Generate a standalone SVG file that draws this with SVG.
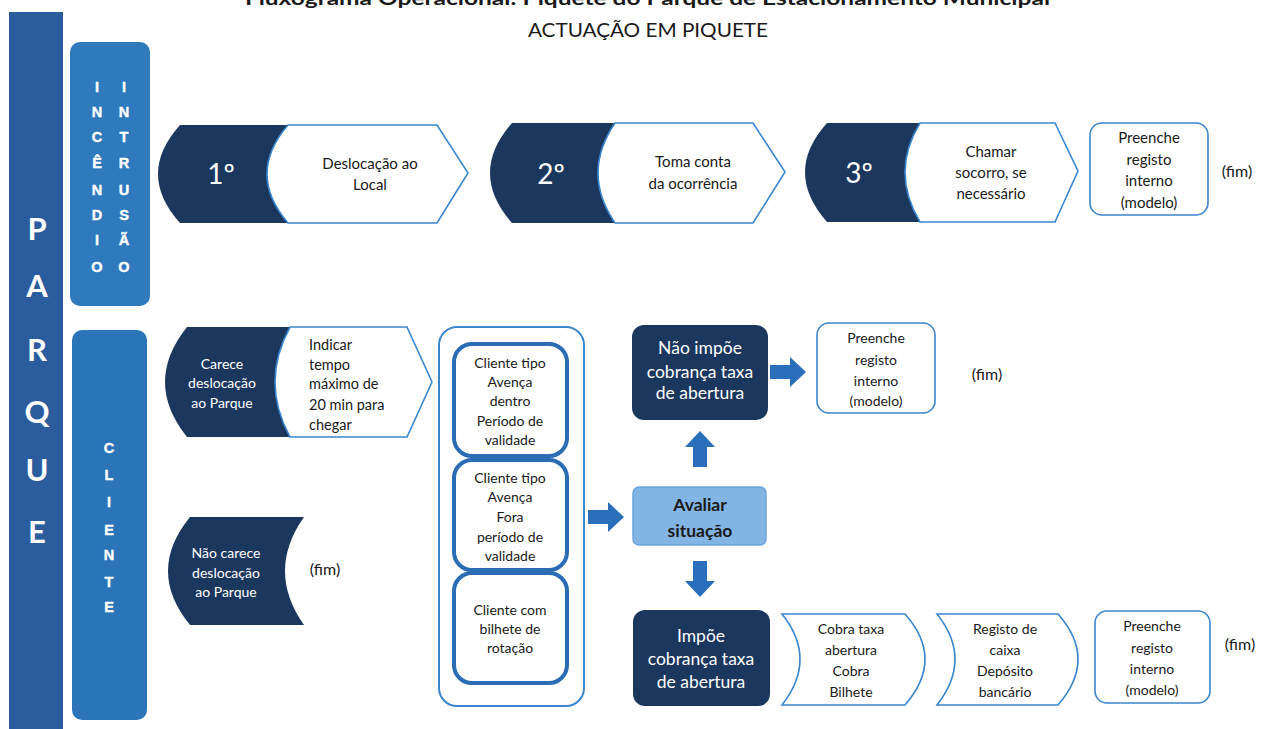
<svg xmlns="http://www.w3.org/2000/svg" width="1264" height="729" viewBox="0 0 1264 729">
<style>
.t{font-family:Lato,"Liberation Sans",sans-serif;fill:#1a1a1a;text-anchor:middle}
.w{font-family:Lato,"Liberation Sans",sans-serif;fill:#ffffff;text-anchor:middle}
.st{font-size:15px}
.fim{font-size:16px}
.num{font-size:28px}
.sm{font-size:14px}
.dk{fill:#1c375e}
.wh{fill:#ffffff;stroke:#3a86cf;stroke-width:1.6}
.ib{fill:#ffffff;stroke:#2a6db5;stroke-width:4}
.vl{font-family:"Liberation Sans",Arial,sans-serif;font-weight:bold;font-size:14.5px;fill:#ffffff;stroke:#ffffff;stroke-width:0.4;text-anchor:middle}
.big{font-family:Lato,"Liberation Sans",sans-serif;font-weight:bold;font-size:31px;fill:#ffffff;text-anchor:middle}
.arr{fill:#2a6fba}
</style>
<defs>
<path id="ba" d="M0 -7 L20 -7 L20 -15 L36 0 L20 15 L20 7 L0 7 Z"/>
</defs>
<rect width="1264" height="729" fill="#ffffff"/>

<g id="title">
<text x="245" y="5" style="font-family:Lato,'Liberation Sans',sans-serif;font-weight:bold;font-size:18px;fill:#1a1a1a" textLength="805" lengthAdjust="spacingAndGlyphs">Fluxograma Operacional: Piquete do Parque de Estacionamento Municipal</text>
<text class="t" x="648" y="37" style="font-size:19px" textLength="240" lengthAdjust="spacingAndGlyphs">ACTUAÇÃO EM PIQUETE</text>
</g>

<g id="parque">
<rect x="9" y="12" width="54" height="730" fill="#2b5c9e"/>
<text class="big" x="37" y="240">P</text>
<text class="big" x="37" y="297">A</text>
<text class="big" x="37" y="361">R</text>
<text class="big" x="37" y="423">Q</text>
<text class="big" x="37" y="481">U</text>
<text class="big" x="37" y="543">E</text>
</g>

<g id="incendio-intrusao">
<rect x="70" y="42" width="80" height="264" rx="10" fill="#2f79bd"/>
<text class="vl" x="97" y="92">I</text><text class="vl" x="97" y="117">N</text><text class="vl" x="97" y="142">C</text><text class="vl" x="97" y="168">Ê</text><text class="vl" x="97" y="195">N</text><text class="vl" x="97" y="220">D</text><text class="vl" x="97" y="245">I</text><text class="vl" x="97" y="272">O</text>
<text class="vl" x="124" y="92">I</text><text class="vl" x="124" y="117">N</text><text class="vl" x="124" y="142">T</text><text class="vl" x="124" y="168">R</text><text class="vl" x="124" y="195">U</text><text class="vl" x="124" y="220">S</text><text class="vl" x="124" y="245">Ã</text><text class="vl" x="124" y="272">O</text>
</g>

<g id="cliente">
<rect x="72" y="330" width="75" height="390" rx="10" fill="#2c74b8"/>
<text class="vl" x="109" y="453">C</text><text class="vl" x="109" y="480">L</text><text class="vl" x="109" y="507">I</text><text class="vl" x="109" y="535">E</text><text class="vl" x="109" y="560">N</text><text class="vl" x="109" y="587">T</text><text class="vl" x="109" y="612">E</text>
</g>

<g id="step1">
<path class="dk" d="M292 125 L180 125 Q136 174 180 223 L292 223 Z"/>
<path class="wh" d="M288 125 L437 125 L468 173 L437 223 L288 223 Q246 174 288 125 Z"/>
<text class="w num" x="221" y="184">1º</text>
<text class="t st" x="370" y="169">Deslocação ao</text>
<text class="t st" x="370" y="190">Local</text>
</g>

<g id="step2">
<path class="dk" d="M617 123 L512 123 Q468 173 512 223 L617 223 Z"/>
<path class="wh" d="M615 123 L753 123 L785 172 L753 223 L615 223 Q581 173 615 123 Z"/>
<text class="w num" x="551" y="184">2º</text>
<text class="t st" x="693" y="167">Toma conta</text>
<text class="t st" x="693" y="189">da ocorrência</text>
</g>

<g id="step3">
<path class="dk" d="M922 123 L827 123 Q783 172 827 222 L922 222 Z"/>
<path class="wh" d="M920 123 L1055 123 L1078 171 L1055 222 L920 222 Q890 172 920 123 Z"/>
<text class="w num" x="859" y="183">3º</text>
<text class="t st" x="991" y="157">Chamar</text>
<text class="t st" x="991" y="178">socorro, se</text>
<text class="t st" x="991" y="199">necessário</text>
</g>

<g id="registo1">
<rect class="wh" x="1090" y="123" width="118" height="92" rx="12"/>
<text class="t st" x="1149" y="143">Preenche</text>
<text class="t st" x="1149" y="165">registo</text>
<text class="t st" x="1149" y="186">interno</text>
<text class="t st" x="1149" y="208">(modelo)</text>
<text class="t fim" x="1237" y="177">(fim)</text>
</g>

<g id="carece">
<path class="dk" d="M294 327 L187 327 Q143 382 187 437 L294 437 Z"/>
<path class="wh" d="M290 327 L407 327 L432 382 L407 437 L290 437 Q260 382 290 327 Z"/>
<text class="w sm" x="222" y="369">Carece</text>
<text class="w sm" x="222" y="388">deslocação</text>
<text class="w sm" x="222" y="408">ao Parque</text>
<g class="t" style="text-anchor:start;font-size:14.5px">
<text x="309" y="350">Indicar</text>
<text x="309" y="370">tempo</text>
<text x="309" y="389">máximo de</text>
<text x="309" y="410">20 min para</text>
<text x="309" y="430">chegar</text>
</g>
</g>

<g id="nao-carece">
<path class="dk" d="M304 517 L190 517 Q146 571 190 625 L304 625 Q266 571 304 517 Z"/>
<text class="w sm" x="226" y="558">Não carece</text>
<text class="w sm" x="226" y="578">deslocação</text>
<text class="w sm" x="226" y="597">ao Parque</text>
<text class="t fim" x="325" y="575">(fim)</text>
</g>

<g id="tipos-cliente">
<rect x="439" y="327" width="145" height="379" rx="18" fill="#ffffff" stroke="#3a86cf" stroke-width="2"/>
<rect class="ib" x="454" y="344" width="113" height="112" rx="18"/>
<rect class="ib" x="454" y="460" width="113" height="110" rx="18"/>
<rect class="ib" x="454" y="573" width="113" height="110" rx="18"/>
<text class="t sm" x="510" y="368">Cliente tipo</text>
<text class="t sm" x="510" y="387">Avença</text>
<text class="t sm" x="510" y="406">dentro</text>
<text class="t sm" x="510" y="426">Período de</text>
<text class="t sm" x="510" y="445">validade</text>
<text class="t sm" x="510" y="483">Cliente tipo</text>
<text class="t sm" x="510" y="502">Avença</text>
<text class="t sm" x="510" y="522">Fora</text>
<text class="t sm" x="510" y="542">período de</text>
<text class="t sm" x="510" y="561">validade</text>
<text class="t sm" x="510" y="615">Cliente com</text>
<text class="t sm" x="510" y="634">bilhete de</text>
<text class="t sm" x="510" y="653">rotação</text>
</g>

<g id="avaliar">
<rect x="633" y="487" width="133" height="58" rx="6" fill="#82b5e4" stroke="#6aa4da" stroke-width="1.5"/>
<text class="t" x="700" y="511" style="font-size:17.5px;font-weight:bold">Avaliar</text>
<text class="t" x="700" y="537" style="font-size:17.5px;font-weight:bold">situação</text>
</g>

<g id="nao-impoe">
<rect class="dk" x="632" y="325" width="136" height="95" rx="12"/>
<text class="w" x="700" y="354" style="font-size:17.5px">Não impõe</text>
<text class="w" x="700" y="378" style="font-size:17.5px">cobrança taxa</text>
<text class="w" x="700" y="399" style="font-size:17.5px">de abertura</text>
</g>

<g id="registo2">
<rect class="wh" x="817" y="323" width="118" height="90" rx="12"/>
<text class="t sm" x="876" y="343">Preenche</text>
<text class="t sm" x="876" y="365">registo</text>
<text class="t sm" x="876" y="386">interno</text>
<text class="t sm" x="876" y="406">(modelo)</text>
<text class="t fim" x="987" y="380">(fim)</text>
</g>

<g id="impoe">
<rect class="dk" x="633" y="610" width="137" height="96" rx="12"/>
<text class="w" x="701" y="642" style="font-size:17.5px">Impõe</text>
<text class="w" x="701" y="665" style="font-size:17.5px">cobrança taxa</text>
<text class="w" x="701" y="688" style="font-size:17.5px">de abertura</text>
</g>

<g id="cobra">
<path class="wh" d="M782 614 L905 614 Q945 659 905 705 L782 705 Q818 659 782 614 Z"/>
<text class="t sm" x="851" y="634">Cobra taxa</text>
<text class="t sm" x="851" y="655">abertura</text>
<text class="t sm" x="851" y="676">Cobra</text>
<text class="t sm" x="851" y="697">Bilhete</text>
</g>

<g id="registo-caixa">
<path class="wh" d="M937 614 L1058 614 Q1098 659 1058 705 L937 705 Q973 659 937 614 Z"/>
<text class="t sm" x="1005" y="634">Registo de</text>
<text class="t sm" x="1005" y="655">caixa</text>
<text class="t sm" x="1005" y="676">Depósito</text>
<text class="t sm" x="1005" y="697">bancário</text>
</g>

<g id="registo3">
<rect class="wh" x="1095" y="611" width="115" height="92" rx="12"/>
<text class="t sm" x="1152" y="631">Preenche</text>
<text class="t sm" x="1152" y="653">registo</text>
<text class="t sm" x="1152" y="674">interno</text>
<text class="t sm" x="1152" y="695">(modelo)</text>
<text class="t fim" x="1240" y="650">(fim)</text>
</g>

<g id="connectors">
<use href="#ba" class="arr" transform="translate(588,517)"/>
<use href="#ba" class="arr" transform="translate(770,372)"/>
<use href="#ba" class="arr" transform="translate(700,467) rotate(-90)"/>
<use href="#ba" class="arr" transform="translate(700,561) rotate(90)"/>
</g>
</svg>
